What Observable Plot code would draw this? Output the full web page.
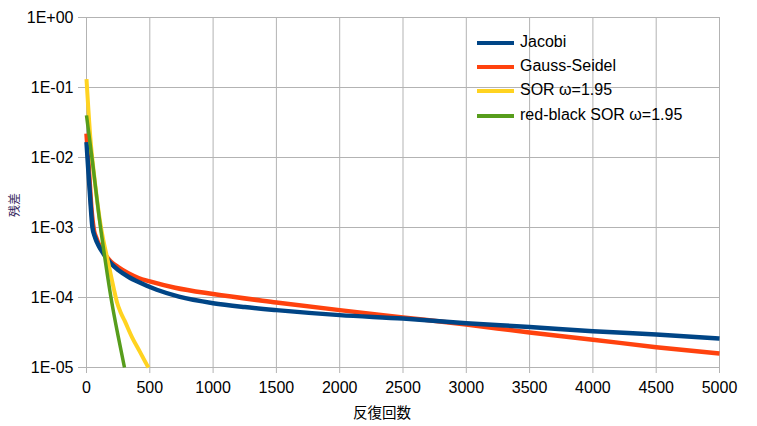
<!DOCTYPE html>
<html>
<head>
<meta charset="utf-8">
<script src="https://cdn.jsdelivr.net/npm/d3@7"></script>
<script src="https://cdn.jsdelivr.net/npm/@observablehq/plot@0.6"></script>
<style>
  html, body { margin: 0; padding: 0; background: #fff; }
  #wrap { position: relative; width: 757px; height: 426px; font-family: "Liberation Sans", Arial, sans-serif; }
  #wrap svg { position: absolute; left: 0; top: 0; }
  .legend { position: absolute; left: 477px; top: 31px; }
  .legend .row { position: relative; height: 24.2px; }
  .legend .swatch { position: absolute; left: 0; top: 10px; width: 37px; height: 4px; }
  .legend .name { position: absolute; left: 43px; top: 2px; font-size: 16px; color: #000; white-space: nowrap; }
  .ytitle { position: absolute; left: 13px; top: 205px; transform: translate(-50%, -50%) rotate(-90deg);
            font-family: "Noto Sans CJK JP", sans-serif; font-size: 12px; color: #3a2a60; white-space: nowrap; }
  .xtitle { position: absolute; left: 382px; top: 411px; transform: translate(-50%, -50%);
            font-family: "Noto Sans CJK JP", sans-serif; font-size: 14.5px; color: #000; white-space: nowrap; }
</style>
</head>
<body>
<div id="wrap"></div>
<script>
// Residual history of four iterative solvers (log scale)
const seriesNames = ["Jacobi", "Gauss-Seidel", "SOR ω=1.95", "red-black SOR ω=1.95"];
const seriesColors = ["#004586", "#ff420e", "#ffd320", "#579d1c"];
const seriesWidths = [4.5, 4.5, 4, 3.5];
// Gauss-Seidel is painted beneath Jacobi
const drawOrder = [1, 0, 2, 3];

const jacobiIter = [0, 15, 30, 47, 68, 100, 135, 190, 253, 330, 411, 555, 730, 1000, 1250, 1500, 2000, 2500, 3000, 3500, 4000, 4500, 5000];
const jacobiRes  = [0.0166, 0.0063, 0.0025, 0.0010, 0.00072, 0.00053, 0.00042, 0.00031, 0.000245, 0.000198, 0.000166, 0.000129, 0.000103,
                    8.3e-5, 7.3e-5, 6.6e-5, 5.6e-5, 5.0e-5, 4.3e-5, 3.8e-5, 3.3e-5, 2.95e-5, 2.6e-5];

const gaussIter = [0, 20, 40, 60, 75, 100, 135, 190, 253, 330, 411, 500, 700, 1000, 1500, 2000, 2500, 3000, 3500, 4000, 4500, 5000];
const gaussRes  = [0.0219, 0.0063, 0.00178, 0.00089, 0.00073, 0.00056, 0.00044, 0.00033, 0.00027, 0.000222, 0.00019, 0.00017, 0.000138,
                   0.000112, 8.5e-5, 6.6e-5, 5.2e-5, 4.1e-5, 3.16e-5, 2.5e-5, 1.95e-5, 1.58e-5];

const sorIter = [0, 30, 68, 110, 174, 215, 242, 270, 300, 360, 420, 480, 490];
const sorRes  = [0.132, 0.0195, 0.0042, 0.00112, 0.0003, 0.000135, 8.4e-5, 6.1e-5, 4.7e-5, 2.7e-5, 1.7e-5, 1.07e-5, 1.0e-5];

const rbIter = [0, 50, 100, 150, 200, 250, 300];
const rbRes  = [0.040, 0.0079, 0.0014, 0.00032, 8.5e-5, 2.8e-5, 1.0e-5];

const xTicks = d3.range(0, 5001, 500);
const yTicks = [1, 1e-1, 1e-2, 1e-3, 1e-4, 1e-5];

const xTitle = "反復回数";
const yTitle = "残差";

// Long-format table for Plot
const rows = [];
[[jacobiIter, jacobiRes], [gaussIter, gaussRes], [sorIter, sorRes], [rbIter, rbRes]].forEach(([its, res], k) => {
  its.forEach((it, i) => rows.push({series: seriesNames[k], k, iter: it, res: res[i]}));
});

const sciFormat = (d) => {
  const e = Math.round(Math.log10(d));
  return "1E" + (e < 0 ? "-" : "+") + String(Math.abs(e)).padStart(2, "0");
};

const chart = Plot.plot({
  width: 757,
  height: 426,
  marginLeft: 86,
  marginRight: 38,
  marginTop: 17,
  marginBottom: 59,
  style: {fontFamily: "Liberation Sans, Arial, sans-serif", fontSize: "16px", color: "#000", background: "transparent"},
  x: {domain: [0, 5000]},
  y: {type: "log", domain: [1e-5, 1]},
  marks: [
    Plot.gridX(xTicks, {stroke: "#b3b3b3", strokeOpacity: 1, strokeWidth: 1}),
    Plot.gridY(yTicks, {stroke: "#b3b3b3", strokeOpacity: 1, strokeWidth: 1}),
    Plot.axisX(xTicks, {tickSize: 6, tickPadding: 8, stroke: "#b3b3b3", strokeOpacity: 1, fontSize: 16, label: null, tickFormat: (d) => String(d)}),
    Plot.axisY(yTicks, {tickSize: 8, tickPadding: 5, stroke: "#b3b3b3", strokeOpacity: 1, fontSize: 16, label: null, tickFormat: sciFormat}),
    ...drawOrder.map((k) =>
      Plot.line(rows.filter((r) => r.k === k), {
        x: "iter", y: "res",
        curve: "monotone-x",
        stroke: seriesColors[k], strokeWidth: seriesWidths[k],
        strokeLinejoin: "round", strokeLinecap: "butt"
      })
    )
  ]
});

const wrap = document.getElementById("wrap");
wrap.appendChild(chart);

// Legend
const legend = document.createElement("div");
legend.className = "legend";
seriesNames.forEach((name, k) => {
  const row = document.createElement("div");
  row.className = "row";
  const sw = document.createElement("div");
  sw.className = "swatch";
  sw.style.background = seriesColors[k];
  const tx = document.createElement("div");
  tx.className = "name";
  tx.textContent = name;
  row.appendChild(sw);
  row.appendChild(tx);
  legend.appendChild(row);
});
wrap.appendChild(legend);

// Axis titles
const yt = document.createElement("div");
yt.className = "ytitle";
yt.textContent = yTitle;
wrap.appendChild(yt);
const xt = document.createElement("div");
xt.className = "xtitle";
xt.textContent = xTitle;
wrap.appendChild(xt);
</script>
</body>
</html>
